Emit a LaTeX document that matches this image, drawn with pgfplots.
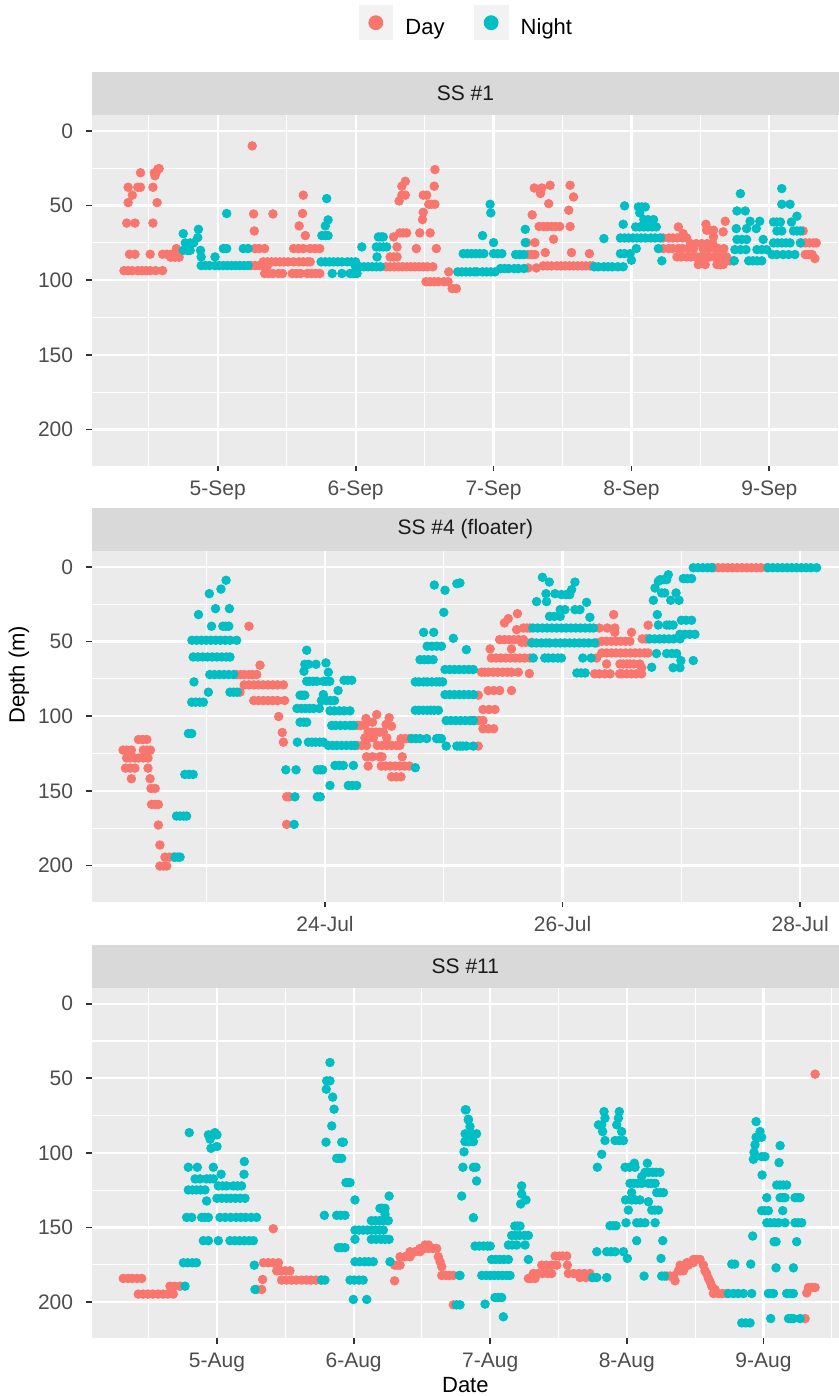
\documentclass[border=0pt]{standalone}
\usepackage{fontspec}
\setmainfont{Liberation Sans}
\usepackage{pgfplots}
\pgfplotsset{compat=1.18}
\definecolor{dayc}{HTML}{F8766D}
\definecolor{nightc}{HTML}{00BFC4}
\definecolor{panelbg}{HTML}{EBEBEB}
\definecolor{stripbg}{HTML}{D9D9D9}
\definecolor{keybg}{HTML}{F2F2F2}
\definecolor{tickc}{HTML}{333333}
\definecolor{labc}{HTML}{4D4D4D}
\definecolor{stripc}{HTML}{1A1A1A}

\pgfplotsset{
  gg/.style={
    scale only axis, width=373.65pt, height=175.35pt,
    axis background/.style={fill=panelbg},
    axis line style={draw=none},
    y dir=reverse, ymin=-10.7, ymax=224.3,
    ytick={0,50,100,150,200}, minor ytick={25,75,125,175},
    grid=both,
    major grid style={draw=white, line width=1.1pt},
    minor grid style={draw=white, line width=0.55pt},
    tick align=outside, major tick length=2.75pt, minor tick length=0pt,
    tick pos=left,
    tick style={draw=tickc, line width=0.9pt},
    /pgf/number format/assume math mode=true,
    ticklabel style={font=\fontsize{10.5}{12.6}\selectfont, text=labc, inner sep=0pt},
    yticklabel style={anchor=east, xshift=-6.35pt},
    xticklabel style={anchor=north, yshift=-4.4pt},
    every axis title shift=0pt,
    title style={at={(0.5,1)}, anchor=south, yshift=0pt, fill=stripbg,
      minimum width=373.65pt, minimum height=21.5pt, inner sep=0pt, outer sep=0pt,
      font=\fontsize{10.5}{12.6}\selectfont, text=stripc},
    label style={font=\fontsize{11}{13.2}\selectfont, text=black},
    legend image code/.code={
      \fill[keybg] (0pt,-2.35pt) rectangle (16.8pt,14.65pt);
      \fill (8.4pt,5.8pt) circle (3.5pt);
    },
  },
  dayp/.style={only marks, mark=*, mark size=2.15pt, color=dayc, mark options={draw=none}},
  nightp/.style={only marks, mark=*, mark size=2.15pt, color=nightc, mark options={draw=none}},
}

\begin{document}
\begin{tikzpicture}
\useasboundingbox (0,0) rectangle (419.5pt,-698pt);

% ---------------- SS #1 ----------------
\begin{axis}[gg, at={(45.85pt,-57.5pt)}, anchor=north west,
  title={SS \#1},
  xmin=4.086, xmax=9.505,
  xtick={5,6,7,8,9}, xticklabels={5-Sep,6-Sep,7-Sep,8-Sep,9-Sep},
  minor xtick={4.5,5.5,6.5,7.5,8.5,9.5},
  legend columns=2,
  legend style={at={(axis description cs:0.5,1.2652)}, anchor=center,
    draw=none, fill=none, font=\fontsize{11}{13.2}\selectfont,
    nodes={inner sep=0pt, anchor=base west},
    /tikz/every odd column/.append style={column sep=6.2pt},
    /tikz/every even column/.append style={column sep=14.7pt}},
]
\addplot[dayp] coordinates {
(4.32,93.6) (4.35,93.6) (4.38,93.6) (4.42,93.6) (4.45,93.6) (4.48,93.6) (4.51,93.6) (4.55,93.6) (4.60,93.6)
(4.36,82.6) (4.40,82.6) (4.51,82.6) (4.60,82.6) (4.63,82.6) (4.66,82.6) (4.70,82.6) (4.66,84.6) (4.69,84.6) (4.72,84.6) (4.70,78.8)
(4.34,61.7) (4.40,61.7) (4.53,61.7) (4.35,48) (4.56,48) (4.38,43) (4.35,37.7) (4.42,37.7) (4.44,37.7) (4.53,37.7) (4.44,28) (4.54,28) (4.555,27.4) (4.565,25.6) (4.575,25.2) (4.545,30)
(5.24,90.2) (5.27,90.2) (5.30,90.2) (5.33,90.2) (5.36,90.2)
(5.33,87.7) (5.36,87.7) (5.39,87.7) (5.42,87.7) (5.45,87.7) (5.48,87.7) (5.51,87.7) (5.55,87.7) (5.59,87.7) (5.62,87.7) (5.65,87.7) (5.67,87.7)
(5.34,95.5) (5.37,95.5) (5.40,95.5) (5.44,95.5) (5.47,95.5) (5.54,95.5) (5.57,95.5) (5.60,95.5) (5.65,95.5) (5.68,95.5) (5.71,95.5) (5.74,95.5)
(5.25,10) (5.26,55.6) (5.265,67) (5.27,78.8) (5.30,78.8) (5.34,78.8) (5.40,55.6)
(5.62,43) (5.615,55.3) (5.59,63.6) (5.635,70.1) (5.55,78.8) (5.585,78.8) (5.62,78.8) (5.67,78.8) (5.705,78.8) (5.74,78.8)
(6.22,91) (6.25,91) (6.28,91) (6.31,91) (6.34,91) (6.37,91) (6.40,91) (6.43,91) (6.46,91) (6.49,91) (6.52,91) (6.56,91)
(6.275,71) (6.30,77.7) (6.25,84.4) (6.275,84.4) (6.30,84.4) (6.32,68.3) (6.345,68.3) (6.37,68.3) (6.315,46.9) (6.335,43) (6.36,43) (6.36,33.7) (6.335,37)
(6.44,78.8) (6.465,68.3) (6.485,59.4) (6.49,54.5) (6.49,43) (6.515,43) (6.53,49.1) (6.55,49.1) (6.575,49.1) (6.54,68.3) (6.585,78.8) (6.57,37) (6.575,25.9)
(6.51,101) (6.54,101) (6.57,101) (6.60,101) (6.64,101) (6.67,101) (6.675,94.4) (6.70,105.6) (6.73,105.6)
(7.24,74.8) (7.30,74.8) (7.25,82.8) (7.275,82.8) (7.30,82.8) (7.25,91.8) (7.31,91.8)
(7.36,90.4) (7.39,90.4) (7.42,90.4) (7.46,90.4) (7.49,90.4) (7.52,90.4) (7.55,90.4) (7.58,90.4) (7.61,90.4) (7.64,90.4) (7.67,90.4) (7.70,90.4) (7.72,90.4)
(7.28,56.2) (7.295,38.2) (7.35,38.2) (7.41,36.4) (7.34,41.9) (7.40,48.7)
(7.33,64) (7.36,64) (7.39,64) (7.42,64) (7.45,64) (7.48,64)
(7.435,72.5) (7.375,81.5) (7.555,36.4) (7.58,44.2) (7.545,53.1) (7.555,64) (7.565,81.5) (7.695,82.2)
(8.23,71.7) (8.27,71.7) (8.30,71.7) (8.33,71.7) (8.37,71.7) (8.40,71.7)
(8.23,78.8) (8.27,78.8) (8.30,78.8) (8.34,78.8) (8.37,78.8) (8.41,78.8) (8.45,78.8) (8.52,78.8) (8.56,78.8) (8.60,78.8) (8.63,78.8) (8.67,78.8)
(8.33,84.4) (8.36,84.4) (8.40,84.4) (8.43,84.4) (8.47,84.4) (8.50,84.4) (8.54,84.4) (8.57,84.4) (8.61,84.4) (8.65,84.4) (8.69,84.4)
(8.43,75.5) (8.47,75.5) (8.51,75.5) (8.55,75.5) (8.59,75.5)
(8.485,89.5) (8.535,89.5) (8.62,89.5) (8.645,89.5) (8.665,89.5)
(8.545,66.5) (8.57,66.5) (8.595,66.5) (8.54,62.5) (8.665,67.6) (8.68,60.5) (8.595,71) (8.34,64.3) (8.375,68.8)
(8.69,87) (8.715,87) (8.74,87)
(9.245,67) (9.23,75) (9.26,75) (9.29,75) (9.32,75) (9.34,75) (9.26,82.8) (9.285,82.8) (9.31,82.8) (9.33,85.5)
};
\addlegendentry{Day}
\addplot[nightp] coordinates {
(4.75,68.8) (4.765,75) (4.80,75) (4.825,75) (4.855,71.4) (4.86,65.9) (4.75,80) (4.78,80) (4.80,80) (4.875,80) (4.88,84.4)
(4.88,90.2) (4.91,90.2) (4.94,90.2) (4.98,90.2) (5.01,90.2) (5.04,90.2) (5.07,90.2) (5.10,90.2) (5.13,90.2) (5.16,90.2) (5.19,90.2) (5.22,90.2)
(4.98,84.4) (5.065,55.3) (5.04,78.8) (5.065,78.8) (5.185,78.8) (5.22,78.8)
(5.79,45.3) (5.80,59.6) (5.78,63.6) (5.755,70.1) (5.78,70.1) (5.80,70.1)
(5.75,87.7) (5.78,87.7) (5.81,87.7) (5.84,87.7) (5.87,87.7) (5.90,87.7) (5.94,87.7) (5.97,87.7) (6.00,87.7)
(5.83,95.5) (5.90,95.5) (5.96,95.5) (5.985,95.5) (6.01,95.5)
(6.00,91) (6.03,91) (6.06,91) (6.09,91) (6.12,91) (6.15,91) (6.18,91)
(6.045,77.7) (6.165,71) (6.185,71) (6.20,71) (6.15,77.7) (6.175,77.7) (6.20,77.7) (6.225,77.7) (6.155,84.4)
(6.78,82.2) (6.81,82.2) (6.84,82.2) (6.87,82.2) (6.90,82.2) (6.93,82.2) (7.00,82.2) (7.03,82.2) (7.06,82.2) (7.16,82.8) (7.19,82.8) (7.22,82.8)
(6.74,94.4) (6.77,94.4) (6.80,94.4) (6.83,94.4) (6.86,94.4) (6.88,94.4) (6.92,94.4) (6.95,94.4) (6.98,94.4) (7.01,94.4)
(7.05,92.2) (7.08,92.2) (7.11,92.2) (7.15,92.2) (7.18,92.2) (7.22,92.2)
(6.92,70.1) (6.975,49.1) (6.98,54.9) (7.00,74.8) (7.23,65.9) (7.23,74.8)
(7.73,91) (7.76,91) (7.80,91) (7.83,91) (7.86,91) (7.90,91) (7.94,91)
(7.80,72.1) (7.92,82.2) (7.95,82.2) (7.99,82.2) (7.94,62.5) (7.95,50.2) (8.00,86.6) (8.035,78.8)
(7.92,71.7) (7.95,71.7) (7.98,71.7) (8.01,71.7) (8.04,71.7) (8.07,71.7) (8.10,71.7) (8.14,71.7) (8.17,71.7) (8.21,71.7)
(8.05,50.9) (8.075,50.9) (8.10,50.9) (8.06,54.9) (8.09,59.4) (8.12,59.4) (8.16,59.4)
(8.03,64.3) (8.06,64.3) (8.09,64.3) (8.12,64.3) (8.15,64.3) (8.18,64.3)
(8.195,78.8) (8.22,87)
(8.745,87) (8.75,79.5) (8.79,79.5) (8.79,42) (8.765,53.6) (8.825,53.6) (8.76,65.4) (8.835,65.4) (8.86,60.5) (8.93,60.5)
(8.765,72.7) (8.80,72.7) (8.835,72.7) (8.83,79.5)
(8.85,87) (8.88,87) (8.91,87) (8.945,87)
(8.905,65.4) (8.955,72.7) (8.91,79.5) (8.945,79.5) (8.98,79.5)
(9.03,75) (9.06,75) (9.09,75) (9.12,75) (9.15,75)
(9.03,61) (9.055,61) (9.08,61) (9.09,38.6) (9.09,49.1) (9.15,49.1) (9.16,61) (9.055,67) (9.09,67) (9.20,57.1)
(9.02,82.8) (9.055,82.8) (9.10,82.8) (9.14,82.8) (9.185,82.8)
(9.175,67) (9.20,67) (9.225,67) (9.225,75)
};
\addlegendentry{Night}
\end{axis}

% ---------------- SS #4 (floater) ----------------
\begin{axis}[gg, at={(45.85pt,-275.5pt)}, anchor=north west,
  title={SS \#4 (floater)},
  xmin=22.036, xmax=28.327,
  xtick={24,26,28}, xticklabels={24-Jul,26-Jul,28-Jul},
  minor xtick={23,25,27},
  ylabel={Depth (m)},
  ylabel style={at={(axis description cs:-0.0973,0.647)}, anchor=center},
]
\addplot[dayp] coordinates {
(22.30,122.7) (22.33,122.7) (22.37,122.7) (22.47,122.7) (22.50,122.7) (22.53,122.7)
(22.33,128) (22.36,128) (22.40,128) (22.43,128) (22.47,128) (22.51,128)
(22.32,134.8) (22.36,134.8) (22.40,134.8) (22.51,134.8)
(22.43,115.6) (22.465,115.6) (22.50,115.6)
(22.37,141.9) (22.527,141.9) (22.535,148.4) (22.57,148.4) (22.54,159.1) (22.57,159.1) (22.597,159.1) (22.597,172.9) (22.61,186.3)
(22.61,200.4) (22.64,200.4) (22.667,200.4) (22.653,194.4) (22.69,194.4) (22.723,194.4)
(23.284,83.9) (23.36,39.7)
(23.256,72.1) (23.29,72.1) (23.32,72.1) (23.36,72.1) (23.39,72.1) (23.425,72.1) (23.453,65.8)
(23.32,79) (23.36,79) (23.40,79) (23.44,79) (23.48,79) (23.52,79) (23.56,79) (23.60,79) (23.65,79)
(23.40,89.5) (23.44,89.5) (23.48,89.5) (23.52,89.5) (23.56,89.5) (23.60,89.5) (23.66,89.5)
(23.61,100.2) (23.64,110.9) (23.65,117.4) (23.677,154) (23.70,154) (23.677,172.5)
(24.27,106.2) (24.30,106.2) (24.336,106.2) (24.27,119.6) (24.31,119.6) (24.35,119.6)
(24.345,101.5) (24.435,98.9) (24.40,104) (24.363,110.7) (24.395,110.7) (24.43,110.7) (24.46,110.7) (24.336,114.5) (24.37,114.5) (24.407,114.5)
(24.49,110.7) (24.514,105.5) (24.54,101) (24.56,106.7) (24.52,114.5)
(24.44,119.6) (24.48,119.6) (24.52,119.6) (24.56,119.6) (24.60,119.6) (24.63,119.6)
(24.35,127.2) (24.40,127.2) (24.46,127.2) (24.48,127.2) (24.65,127.2)
(24.363,133.4) (24.474,133.4) (24.51,133.4) (24.55,133.4) (24.59,133.4) (24.63,133.4) (24.67,133.4) (24.71,133.4)
(24.56,140.6) (24.60,140.6) (24.64,140.6)
(24.64,115) (24.675,115) (24.71,115)
(25.29,85.9) (25.26,102.9) (25.295,102.9) (25.33,102.9) (25.33,108.4) (25.375,108.4) (25.42,108.4) (25.29,120)
(25.33,95.5) (25.38,95.5) (25.43,95.5)
(25.374,82.8) (25.42,82.8) (25.47,82.8) (25.57,82.8)
(25.318,70.5) (25.345,70.5) (25.374,70.5) (25.416,70.5) (25.455,70.5) (25.495,70.5) (25.535,70.5) (25.57,70.5) (25.627,70.5) (25.72,71.4)
(25.39,54.9) (25.57,54.9)
(25.40,61) (25.44,61) (25.48,61) (25.52,61) (25.56,61) (25.60,61) (25.64,61) (25.68,61) (25.725,61)
(25.47,48.7) (25.51,48.7) (25.55,48.7) (25.59,48.7) (25.63,48.7) (25.67,48.7)
(25.613,42) (25.51,37.5) (25.543,34.6) (25.62,31.3)
(25.67,40.9) (25.70,40.9) (25.725,40.9) (25.655,50.5) (25.69,50.5) (25.74,50.5)
(26.286,50.9) (26.286,61) (26.309,40.9) (26.376,40.9) (26.44,40.9) (26.43,31.9) (26.44,43.8) (26.58,43.8)
(26.33,49.8) (26.37,49.8) (26.41,49.8) (26.45,49.8) (26.49,49.8) (26.53,49.8) (26.567,49.8)
(26.33,57.6) (26.37,57.6) (26.41,57.6) (26.45,57.6) (26.49,57.6) (26.53,57.6) (26.57,57.6) (26.61,57.6) (26.65,57.6) (26.69,57.6) (26.72,57.6)
(26.37,65) (26.483,65) (26.51,65) (26.54,65) (26.567,65) (26.60,65) (26.65,65) (26.666,67.6)
(26.27,71.6) (26.31,71.6) (26.355,71.6) (26.40,71.6) (26.48,71.6) (26.50,71.6) (26.54,71.6) (26.58,71.6) (26.62,71.6) (26.665,71.6)
(26.67,48.2) (26.70,48.2) (26.72,48.2) (26.72,39)
(27.27,0.5) (27.31,0.5) (27.35,0.5) (27.39,0.5) (27.43,0.5) (27.47,0.5) (27.51,0.5) (27.55,0.5) (27.59,0.5) (27.63,0.5) (27.67,0.5) (27.72,0.5)
};
\addplot[nightp] coordinates {
(22.737,194.4) (22.76,194.4) (22.78,194.4)
(22.75,166.9) (22.78,166.9) (22.81,166.9) (22.835,166.9)
(22.82,139) (22.855,139) (22.89,139) (22.85,111.6) (22.878,111.6)
(22.878,90.6) (22.91,90.6) (22.945,90.6) (22.976,90.6)
(22.897,77) (23.018,83.9) (23.026,17.9) (23.124,14.8) (23.167,8.9) (22.935,31.9) (23.078,27.9) (23.195,27.9) (23.045,39.7) (23.14,39.7) (23.165,39.7) (23.19,39.7)
(22.88,49.1) (22.92,49.1) (22.96,49.1) (23.00,49.1) (23.04,49.1) (23.08,49.1) (23.12,49.1) (23.16,49.1) (23.20,49.1) (23.256,49.1)
(22.89,60.3) (22.93,60.3) (22.97,60.3) (23.01,60.3) (23.05,60.3) (23.09,60.3) (23.13,60.3) (23.17,60.3) (23.20,60.3)
(23.03,72.1) (23.07,72.1) (23.11,72.1) (23.15,72.1) (23.19,72.1) (23.23,72.1)
(23.20,83.9) (23.23,83.9) (23.26,83.9)
(23.747,154) (23.74,172.5)
(23.67,135.9) (23.756,135.9) (23.935,135.9) (23.96,135.9) (23.98,135.9)
(23.767,117.4) (23.86,117.4) (23.89,117.4) (23.92,117.4) (23.955,117.4) (23.986,117.4)
(23.935,154) (23.96,154) (24.042,146.4) (24.196,146.4) (24.23,146.4) (24.267,146.4)
(23.846,55.8) (23.83,65.2) (23.86,65.2) (23.924,65.2) (23.823,69.9)
(23.846,76.6) (23.87,76.6) (23.90,76.6) (23.93,76.6) (23.986,76.6) (24.01,76.6) (24.04,76.6)
(23.79,85.9) (23.81,85.9) (23.83,85.9)
(23.764,94.8) (23.80,94.8) (23.835,94.8) (23.87,94.8) (23.904,94.8) (23.952,94.8)
(23.79,104) (23.82,104) (23.846,104)
(24.008,64.3) (24.028,70.5) (23.986,85.5)
(23.97,89.5) (24.01,89.5) (24.045,89.5) (24.08,89.5)
(24.11,82.8) (24.16,75.9) (24.19,75.9) (24.225,75.9)
(24.042,96.4) (24.08,96.4) (24.12,96.4) (24.16,96.4) (24.21,96.4)
(24.056,106.2) (24.09,106.2) (24.13,106.2) (24.17,106.2) (24.21,106.2) (24.24,106.2)
(24.028,119.6) (24.065,119.6) (24.10,119.6) (24.14,119.6) (24.18,119.6) (24.22,119.6) (24.25,119.6)
(24.084,133) (24.12,133) (24.154,133) (24.239,133)
(24.73,115) (24.765,115) (24.80,115) (24.856,115) (24.94,115) (24.96,115) (24.98,115)
(24.76,134.5)
(24.76,96) (24.79,96) (24.825,96) (24.86,96) (24.89,96) (24.92,96) (24.955,96)
(24.76,77) (24.79,77) (24.83,77) (24.86,77) (24.90,77) (24.94,77) (24.965,77) (24.99,77)
(24.80,62.1) (24.835,62.1) (24.87,62.1) (24.91,62.1)
(24.86,53.1) (24.90,53.1) (24.94,53.1) (24.98,53.1)
(24.83,43.8) (24.915,43.8) (24.92,12.1) (25.01,15.6) (25.11,11.2) (25.0,30.4) (25.08,47.8) (25.19,55.4) (25.136,10.7)
(25.01,68.7) (25.05,68.7) (25.09,68.7) (25.13,68.7) (25.17,68.7) (25.21,68.7) (25.248,68.7)
(25.01,85.5) (25.05,85.5) (25.09,85.5) (25.13,85.5) (25.17,85.5) (25.21,85.5) (25.25,85.5)
(25.02,102.9) (25.06,102.9) (25.10,102.9) (25.14,102.9) (25.18,102.9) (25.22,102.9) (25.25,102.9)
(25.02,120) (25.11,120) (25.136,120) (25.16,120) (25.19,120) (25.248,120)
(25.75,40.9) (25.79,40.9) (25.83,40.9) (25.87,40.9) (25.91,40.9) (25.95,40.9) (25.99,40.9) (26.03,40.9) (26.07,40.9) (26.11,40.9) (26.15,40.9) (26.19,40.9) (26.23,40.9) (26.26,40.9)
(25.74,50.9) (25.78,50.9) (25.82,50.9) (25.86,50.9) (25.89,50.9) (25.94,50.9) (25.98,50.9) (26.02,50.9) (26.06,50.9) (26.10,50.9) (26.14,50.9) (26.18,50.9) (26.22,50.9) (26.27,50.9)
(25.753,61) (25.85,61) (25.88,61) (25.92,61) (25.96,61) (25.99,61)
(25.781,23.2) (25.865,23.2) (25.83,6.9) (25.888,10.1) (25.86,17.9) (25.936,17.9) (25.99,18.5) (26.03,18.5) (26.06,18.5) (26.076,15.2) (26.104,10.1)
(25.89,33.1) (25.93,33.1) (25.98,33.1) (25.98,28.6) (26.02,28.6) (26.104,28.6) (26.146,28.6) (26.202,23.7) (26.23,33.7)
(26.12,71) (26.155,71) (26.19,71) (26.17,61) (26.24,61)
(26.75,67.2) (26.79,58) (26.876,58) (26.92,58) (26.96,58)
(26.735,48.2) (26.775,48.2) (26.815,48.2) (26.855,48.2) (26.895,48.2) (26.935,48.2) (26.988,48.2)
(26.806,38.9) (26.876,38.9) (26.90,38.9) (26.93,38.9) (26.797,31.9) (26.764,22.3) (26.834,17.4) (26.806,9.6) (26.89,5.2) (26.82,8.5) (26.85,8.5) (26.876,8.5)
(26.778,14.1) (26.86,17.4) (26.91,22.3) (26.955,17.4) (26.98,22.3) (26.93,67.5) (26.988,67.5) (26.996,62.7) (27.10,62.7)
(26.988,45.1) (27.03,45.1) (27.07,45.1) (27.114,45.1) (27.0,35.7) (27.04,35.7) (27.086,35.7) (27.016,7.8) (27.05,7.8) (27.086,7.8)
(27.10,0.5) (27.14,0.5) (27.18,0.5) (27.22,0.5) (27.254,0.5)
(27.73,0.5) (27.77,0.5) (27.81,0.5) (27.85,0.5) (27.89,0.5) (27.93,0.5) (27.97,0.5) (28.01,0.5) (28.05,0.5) (28.09,0.5) (28.138,0.5)
};
\end{axis}

% ---------------- SS #11 ----------------
\begin{axis}[gg, at={(45.85pt,-493.85pt)}, anchor=north west,
  title={SS \#11},
  xmin=4.083, xmax=9.553,
  xtick={5,6,7,8,9}, xticklabels={5-Aug,6-Aug,7-Aug,8-Aug,9-Aug},
  minor xtick={4.5,5.5,6.5,7.5,8.5,9.5},
  xlabel={Date},
  xlabel style={at={(axis description cs:0.5,0)}, anchor=base, yshift=-27.2pt, inner sep=0pt},
]
\addplot[dayp] coordinates {
(4.314,184.1) (4.35,184.1) (4.38,184.1) (4.415,184.1) (4.449,184.1)
(4.424,194.6) (4.46,194.6) (4.495,194.6) (4.53,194.6) (4.57,194.6) (4.605,194.6) (4.64,194.6) (4.68,194.6)
(4.656,189.3) (4.69,189.3) (4.73,189.3)
(5.412,150.8) (5.34,173.6) (5.375,173.6) (5.41,173.6) (5.45,173.6) (5.437,179) (5.47,179) (5.50,179) (5.534,179)
(5.473,185.2) (5.51,185.2) (5.545,185.2) (5.58,185.2) (5.62,185.2) (5.655,185.2) (5.69,185.2) (5.725,185.2) (5.76,185.2)
(5.334,184.8) (5.29,191.5) (5.327,191.5)
(6.30,185.7) (6.30,175.2) (6.32,175.2) (6.34,175.2) (6.34,169.6) (6.375,169.6) (6.413,169.6) (6.413,166.2) (6.45,166.2) (6.486,166.2)
(6.486,164) (6.52,164) (6.55,164) (6.58,164) (6.608,164) (6.523,161.7) (6.548,161.7) (6.62,169.6) (6.633,172.9) (6.645,176.3)
(6.645,182.1) (6.675,182.1) (6.70,182.1) (6.73,182.1) (6.73,201.8)
(7.279,184.1) (7.30,184.1) (7.328,184.1)
(7.316,180.8) (7.35,180.8) (7.385,180.8) (7.42,180.8) (7.45,180.8)
(7.377,175.2) (7.41,175.2) (7.45,175.2) (7.487,175.2)
(7.475,169.1) (7.505,169.1) (7.53,169.1) (7.56,169.1) (7.565,175.2)
(7.572,180.8) (7.61,180.8) (7.65,180.8) (7.69,180.8) (7.73,180.8) (7.657,183.5) (7.70,183.5) (7.743,183.5)
(8.292,182.5) (8.316,182.5) (8.34,182.5) (8.353,185.7) (8.377,179) (8.395,179) (8.414,179) (8.39,175.2) (8.42,175.2) (8.45,175.2)
(8.44,173.5) (8.465,173.5) (8.487,173.5) (8.487,171.4) (8.51,171.4) (8.536,171.4) (8.56,175.2) (8.572,179) (8.585,181) (8.597,184.1)
(8.61,186.5) (8.621,189.3) (8.646,191.5) (8.634,194.2) (8.67,194.2) (8.70,194.2) (8.731,194.2)
(9.305,211) (9.317,193.8) (9.329,190.2) (9.355,190.2) (9.378,190.2) (9.378,47.2)
};
\addplot[nightp] coordinates {
(4.766,189.3) (4.754,173.6) (4.785,173.6) (4.82,173.6) (4.85,173.6)
(4.90,158.8) (4.937,158.8) (5.01,158.8) (5.095,158.8) (5.13,158.8) (5.165,158.8) (5.20,158.8) (5.235,158.8) (5.266,158.8)
(4.778,143.2) (4.815,143.2) (4.888,143.2) (4.912,143.2) (4.937,143.2) (5.022,143.2) (5.06,143.2) (5.10,143.2) (5.14,143.2) (5.175,143.2) (5.21,143.2) (5.25,143.2) (5.29,143.2)
(5.0,130.4) (5.035,130.4) (5.07,130.4) (5.10,130.4) (5.135,130.4) (5.17,130.4) (5.205,130.4) (4.924,132.2)
(4.79,124.8) (4.82,124.8) (4.85,124.8) (4.88,124.8) (4.912,124.8)
(5.01,122.1) (5.04,122.1) (5.07,122.1) (5.12,122.1) (5.15,122.1) (5.18,122.1)
(4.84,117.4) (4.876,117.4) (4.924,117.4) (4.95,117.4) (4.973,117.4)
(4.79,109.6) (4.856,109.6) (4.973,109.6) (5.03,114.3) (5.198,114.3) (5.2,105.8) (4.797,86.4) (4.937,87.9) (4.96,87.9) (5.0,87.9) (4.985,86.4)
(4.95,90.8) (4.956,96.9) (5.0,95.7) (5.273,175.2)
(5.278,191.5) (5.766,185.2) (5.79,185.2)
(5.827,39.4) (5.803,51.7) (5.827,51.7) (5.8,57.3) (5.847,62.6) (5.857,70.7) (5.84,81.9) (5.798,92.8) (5.913,92.8) (5.925,92.8)
(5.876,103.6) (5.895,103.6) (5.913,103.6) (5.944,119.9) (5.96,119.9) (5.974,119.9) (6.01,131.5)
(5.786,141.8) (5.876,141.8) (5.905,141.8) (5.937,141.8) (5.888,163.5) (5.91,163.5) (5.937,163.5)
(5.974,185.2) (6.005,185.2) (6.04,185.2) (6.07,185.2) (5.998,198.2) (6.096,198.2)
(6.01,172.9) (6.045,172.9) (6.08,172.9) (6.11,172.9) (6.144,172.9)
(6.01,151.7) (6.04,151.7) (6.07,151.7) (6.10,151.7) (6.13,151.7) (6.16,151.7) (6.19,151.7) (6.218,151.7)
(6.01,157.9) (6.13,157.9) (6.165,157.9) (6.20,157.9) (6.23,157.9) (6.26,157.9)
(6.13,145.4) (6.16,145.4) (6.19,145.4) (6.22,145.4) (6.254,145.4)
(6.193,137.1) (6.21,137.1) (6.23,137.1) (6.23,141.2) (6.26,128.9) (6.266,172.9)
(6.774,182.1) (6.754,201.8) (6.779,201.8)
(6.791,128.9) (6.80,109.6) (6.808,99.3) (6.815,92.4) (6.84,92.4) (6.818,71.1) (6.84,77.9) (6.828,87.9)
(6.823,71.1) (6.84,77.4) (6.852,82.3)
(6.816,87.2) (6.845,87.2) (6.87,87.2) (6.90,87.2) (6.85,92.4) (6.877,92.4)
(6.877,109.6) (6.896,109.6) (6.9,118.8) (6.877,143.4)
(6.889,162.4) (6.92,162.4) (6.95,162.4) (6.98,162.4) (7.0,162.4)
(7.01,171.4) (7.04,171.4) (7.07,171.4) (7.10,171.4) (7.133,171.4)
(6.779,182.1) (6.938,182.1) (6.97,182.1) (7.0,182.1) (7.03,182.1) (7.06,182.1) (7.09,182.1) (7.12,182.1) (7.145,182.1)
(6.962,201.3) (7.035,196.9) (7.06,196.9) (7.084,196.9) (7.096,209.8)
(7.133,161.7) (7.16,161.7) (7.194,161.7)
(7.157,155.3) (7.185,155.3) (7.215,155.3) (7.25,155.3) (7.279,155.3)
(7.18,149) (7.2,149) (7.218,149) (7.255,161.7) (7.279,171.4) (7.23,122.1) (7.23,127.5) (7.262,131.5) (7.223,134.2)
(7.75,183.5) (7.78,183.5) (7.853,183.5)
(7.78,166.2) (7.853,166.2) (7.885,166.2) (7.914,166.2) (7.975,166.2) (8.004,170.7)
(7.877,148.8) (7.90,148.8) (7.921,148.8) (7.994,146.8) (8.072,146.8) (8.10,146.8) (8.133,146.8) (8.207,146.8)
(8.072,158.8) (8.263,158.8) (8.25,170.7) (8.126,182.5) (8.255,182.5) (8.275,182.5)
(7.99,131.5) (8.035,131.5) (8.065,131.5) (8.096,131.5) (8.158,132.7) (8.011,138.3) (8.182,138.3) (8.205,138.3) (8.231,138.3)
(8.219,126.6) (8.245,126.6) (8.268,126.6) (8.035,126.6)
(8.023,120.4) (8.05,120.4) (8.08,120.4) (8.109,120.4) (8.158,120.4) (8.18,120.4) (8.207,120.4)
(8.109,115.9) (8.133,113) (8.16,113) (8.19,113) (8.215,113) (8.243,113)
(8.15,106.9) (7.987,109.6) (8.02,109.6) (8.06,109.6) (8.055,106.9) (7.784,109.6) (7.816,100.9)
(7.84,91.7) (7.914,91.7) (7.945,91.7) (7.975,91.7) (7.823,85.7) (7.792,81.2) (7.816,81.2) (7.926,81.2)
(7.938,76.7) (7.945,72.3) (7.833,72.3) (7.84,76.7) (7.962,85.7)
(8.743,194.2) (8.78,194.2) (8.815,194.2) (8.853,194.2) (8.914,194.2)
(8.841,213.9) (8.87,213.9) (8.902,213.9)
(9.053,211) (9.183,211) (9.20,211) (9.219,211) (9.268,211)
(9.036,194.2) (9.055,194.2) (9.073,194.2) (9.17,194.2) (9.195,194.2) (9.219,194.2)
(8.768,174.5) (8.79,174.5) (8.907,174.5) (9.092,177) (9.219,177)
(8.921,155.7) (9.078,159.5) (9.092,159.5) (9.243,159.5)
(9.024,146.8) (9.05,146.8) (9.08,146.8) (9.11,146.8) (9.158,146.8) (9.231,146.8) (9.255,146.8) (9.28,146.8)
(8.987,138.7) (9.01,138.7) (9.036,138.7) (9.141,138.7)
(9.024,130) (9.122,130) (9.14,130) (9.158,130) (9.231,130) (9.25,130) (9.268,130)
(9.097,121.5) (9.12,121.5) (9.145,121.5) (9.17,121.5)
(8.99,114.8) (9.114,106.5) (9.122,95.1) (8.987,102.5) (9.011,102.5) (8.926,104.3) (8.931,99.6)
(8.946,79) (8.975,85.7) (8.946,89.5) (8.965,89.5) (8.987,89.5) (8.938,94.6)
};
\end{axis}
\end{tikzpicture}
\end{document}
